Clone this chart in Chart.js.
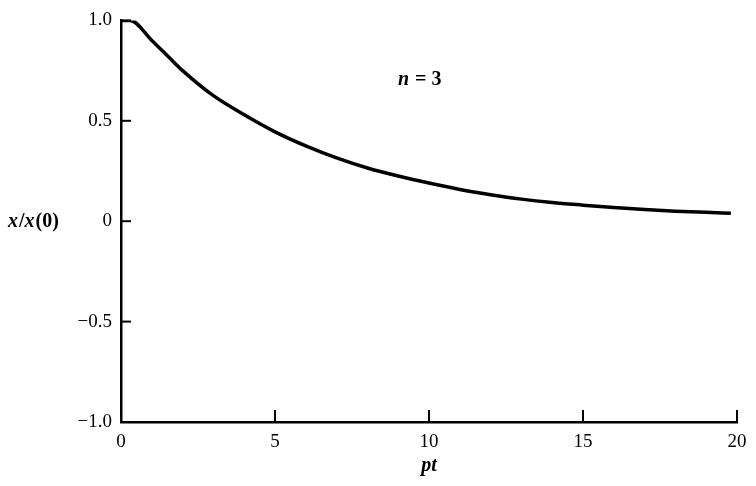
<!DOCTYPE html>
<html>
<head>
<meta charset="utf-8">
<script src="https://cdn.jsdelivr.net/npm/chart.js@4"></script>
<style>
  html, body { margin: 0; padding: 0; background: #fff; }
  #wrap { width: 756px; height: 486px; position: relative; }
</style>
</head>
<body>
<div id="wrap"><canvas id="c" width="756" height="486"></canvas></div>
<script>
// Data
const ptValues = [0, 0.3, 1, 1.5, 2, 3, 4, 5, 6, 7, 8, 9, 10, 11, 12, 13, 14, 15, 16, 17, 18, 19, 19.8];
const ratioValues = [1.0, 1.0, 0.90, 0.825, 0.75, 0.625, 0.53, 0.445, 0.375, 0.315, 0.265, 0.225, 0.19, 0.158, 0.132, 0.11, 0.093, 0.08, 0.068, 0.058, 0.05, 0.044, 0.04];
const xTicks = [0, 5, 10, 15, 20];
const yTicks = [-1.0, -0.5, 0, 0.5, 1.0];
const yTickLabels = ['\u22121.0', '\u22120.5', '0', '0.5', '1.0'];
const xTitle = 'pt';
const yTitleParts = [['x', true], ['/', false], ['x', true], ['(0)', false]];
const annotationParts = [['n', true], [' = 3', false]];

const points = ptValues.map((v, i) => ({ x: v, y: ratioValues[i] }));
const serif = '"Liberation Serif", "DejaVu Serif", serif';

function drawParts(ctx, parts, x, y, size) {
  let cx = x;
  parts.forEach(([t, it]) => {
    ctx.font = (it ? 'italic ' : '') + 'bold ' + size + 'px ' + serif;
    ctx.fillText(t, cx, y);
    cx += ctx.measureText(t).width + (it ? 1 : 0);
  });
}
function partsWidth(ctx, parts, size) {
  let w = 0;
  parts.forEach(([t, it]) => {
    ctx.font = (it ? 'italic ' : '') + 'bold ' + size + 'px ' + serif;
    w += ctx.measureText(t).width + (it ? 1 : 0);
  });
  return w;
}

const decor = {
  id: 'decor',
  afterDraw(chart) {
    const ctx = chart.ctx;
    const xs = chart.scales.x, ys = chart.scales.y;
    ctx.save();
    ctx.strokeStyle = '#000';
    ctx.lineWidth = 2;
    // inward tick marks
    xTicks.forEach(v => {
      const px = xs.getPixelForValue(v);
      ctx.beginPath();
      ctx.moveTo(px, ys.bottom);
      ctx.lineTo(px, ys.bottom - 12);
      ctx.stroke();
    });
    yTicks.forEach(v => {
      const py = ys.getPixelForValue(v);
      ctx.beginPath();
      ctx.moveTo(xs.left, py);
      ctx.lineTo(xs.left + 10, py);
      ctx.stroke();
    });
    ctx.fillStyle = '#000';
    ctx.textBaseline = 'middle';
    ctx.textAlign = 'left';
    // y title
    drawParts(ctx, yTitleParts, 8, ys.getPixelForValue(0) + 1, 20);
    // x title
    ctx.font = 'italic bold 20px ' + serif;
    ctx.textAlign = 'center';
    ctx.fillText(xTitle, xs.getPixelForValue(10), 466);
    // annotation
    ctx.textAlign = 'left';
    const w = partsWidth(ctx, annotationParts, 20);
    drawParts(ctx, annotationParts, xs.getPixelForValue(9.7) - w / 2, ys.getPixelForValue(0.705), 20);
    ctx.restore();
  }
};

new Chart(document.getElementById('c'), {
  type: 'scatter',
  data: {
    datasets: [{
      data: points,
      showLine: true,
      borderColor: '#000',
      borderWidth: 3.5,
      pointRadius: 0,
      cubicInterpolationMode: 'monotone',
      fill: false
    }]
  },
  options: {
    responsive: false,
    animation: false,
    devicePixelRatio: 1,
    layout: { padding: { top: 20, right: 19, left: 0, bottom: 0 } },
    plugins: { legend: { display: false }, tooltip: { enabled: false } },
    scales: {
      x: {
        type: 'linear', min: 0, max: 20,
        afterFit(s) { s.height = 64; },
        afterBuildTicks(s) { s.ticks = xTicks.map(v => ({ value: v })); },
        grid: { display: true, drawOnChartArea: false, drawTicks: false },
        border: { display: true, color: '#000', width: 2.5 },
        ticks: { color: '#000', padding: 9, font: { family: serif, size: 19 }, maxRotation: 0 }
      },
      y: {
        type: 'linear', min: -1, max: 1,
        afterFit(s) { s.width = 121; },
        afterBuildTicks(s) { s.ticks = yTicks.map(v => ({ value: v })); },
        grid: { display: true, drawOnChartArea: false, drawTicks: false },
        border: { display: true, color: '#000', width: 2.5 },
        ticks: {
          color: '#000', padding: 9, font: { family: serif, size: 19 },
          callback: (v) => { const i = yTicks.indexOf(v); return i >= 0 ? yTickLabels[i] : ''; }
        }
      }
    }
  },
  plugins: [decor]
});
</script>
</body>
</html>
